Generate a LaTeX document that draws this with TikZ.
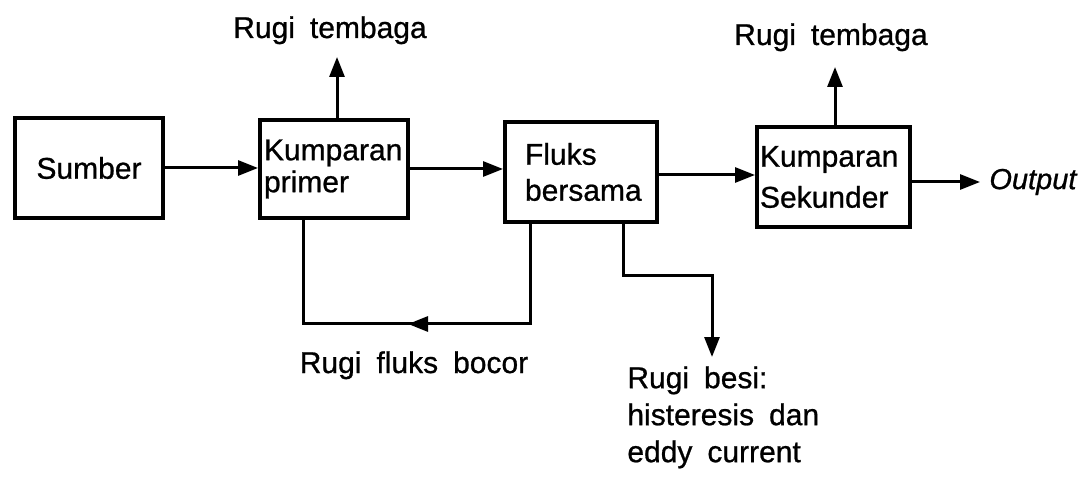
\documentclass[tikz,border=0pt]{standalone}
\usepackage{fontspec}
\setmainfont[FakeBold=0.8]{Liberation Sans}
\usetikzlibrary{arrows.meta,calc,decorations.markings}
\newcommand\mylblfont{\fontsize{15}{18.5}\selectfont\spaceskip=0.5em\relax}
\begin{document}
\begin{tikzpicture}[x=0.5pt,y=-0.5pt,
  box/.style={draw, line width=2pt, minimum height=50pt, inner ysep=0pt,
    font=\fontsize{15}{18}\selectfont},
  conn/.style={line width=1.5pt},
  arr/.style={conn, -{Triangle[length=10pt,width=7.5pt]}},
  lbl/.style={inner sep=0pt, font=\mylblfont},
  midarrow/.style={postaction={decorate}, decoration={markings,
    mark=at position 0.515 with {\arrow{Triangle[length=10pt,width=7.5pt]}}}}
]
\useasboundingbox (0,0) rectangle (1078,481);

% blocks
\node[box, minimum width=74pt, align=center] (sumber) at (89,168) {Sumber};
\node[box, text width=70pt, inner xsep=2pt, align=left, minimum height=49pt] (kprimer) at (334,169) {Kumparan\\[-2pt]primer};
\node[box, text width=56pt, inner xsep=10pt, align=left] (fluks) at (581,172) {Fluks\\bersama};
\node[box, text width=73.5pt, inner xsep=1.5pt, align=left] (sekunder) at (833.5,177) {Kumparan\\[2.5pt]Sekunder};

% labels
\node[lbl, anchor=base] (cu1) at (330,38) {Rugi tembaga};
\node[lbl, anchor=base] (cu2) at (831,45) {Rugi tembaga};
\node[lbl, anchor=base] (fb) at (414,373) {Rugi fluks bocor};
\node[lbl, anchor=north west, align=left] (fe) at (627,366) {Rugi besi:\\histeresis dan\\eddy current};
\node[inner sep=0pt, anchor=west, font=\fontsize{14.5}{17}\selectfont\itshape] (out) at (989,182) {Output};

% helper coordinates
\coordinate (t1) at (337,57);
\coordinate (t2) at (835,67);
\coordinate (ie) at (712,357);
\coordinate (f1) at ($(fluks.east)+(0,3)$);
\coordinate (fbA) at ($(fluks.south west)+(27,0)$);
\coordinate (fbB) at ($(kprimer.south west)+(45,0)$);
\coordinate (irA) at ($(fluks.south west)+(120,0)$);

% main flow
\draw[arr] (sumber.east) -- (sumber.east -| kprimer.west);
\draw[arr] (kprimer.east) -- (kprimer.east -| fluks.west);
\draw[arr] (f1) -- (f1 -| sekunder.west);
\draw[arr, shorten >=4.5pt] (sekunder.east |- out.west) -- (out.west);

% copper losses
\draw[arr] (kprimer.north -| t1) -- (t1);
\draw[arr] (sekunder.north -| t2) -- (t2);

% leakage flux
\draw[conn, midarrow] (fbA) -- ++(0,100) -| (fbB);

% iron loss
\draw[arr] (irA) -- ++(0,52) -| (ie);
\end{tikzpicture}
\end{document}
